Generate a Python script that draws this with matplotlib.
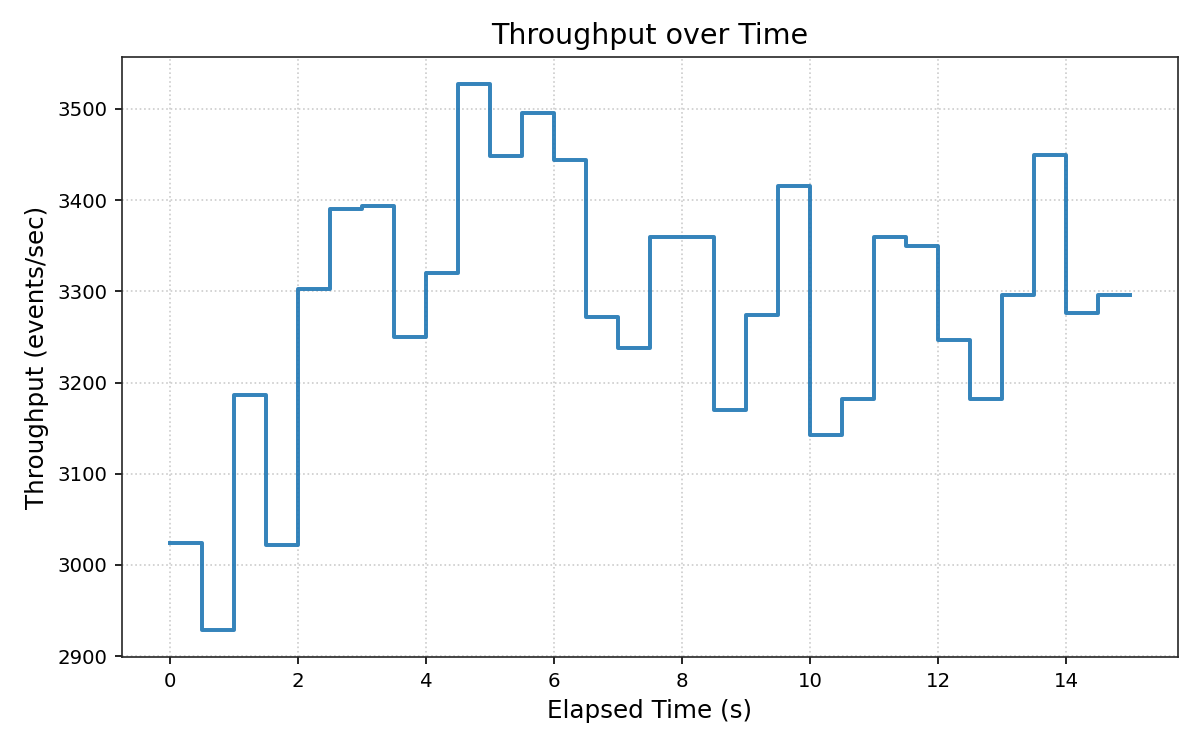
import numpy as np
import matplotlib.pyplot as plt

# Elapsed time (s) and throughput (events/sec)
elapsed = np.arange(0, 15.5, 0.5)
throughput = [3024, 2929, 3186, 3022, 3303, 3390, 3393, 3250, 3320, 3527,
              3448, 3496, 3444, 3272, 3238, 3360, 3360, 3170, 3274, 3415,
              3143, 3182, 3360, 3350, 3247, 3182, 3296, 3450, 3276, 3296,
              3296]

fig, ax = plt.subplots(figsize=(8, 5), dpi=150)

ax.step(elapsed, throughput, where='post', color='#1f77b4', alpha=0.9, linewidth=1.9)

ax.set_title('Throughput over Time', fontsize=13.7)
ax.set_xlabel('Elapsed Time (s)', fontsize=11.8)
ax.set_ylabel('Throughput (events/sec)', fontsize=11.8)
ax.tick_params(labelsize=9.5)
ax.grid(True, linestyle=':', color='#cccccc', linewidth=0.8)
for s in ax.spines.values():
    s.set_color('#262626')

fig.subplots_adjust(left=0.1017, right=0.9817, top=0.924, bottom=0.124)
fig.savefig('out.png')
